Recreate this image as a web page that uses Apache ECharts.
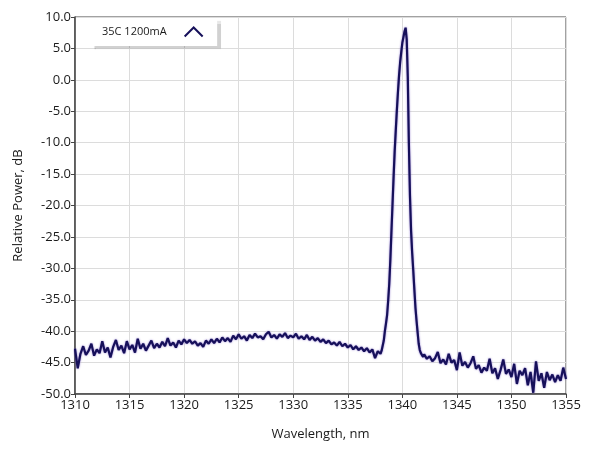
<!DOCTYPE html>
<html><head><meta charset="utf-8">
<script src="https://cdn.jsdelivr.net/npm/echarts@6/dist/echarts.min.js"></script>
<style>html,body{margin:0;padding:0;background:#fff}#c{width:589px;height:456px}</style>
</head><body><div id="c"></div>
<script>
const seriesName = '35C 1200mA';
const xTicks = [1310,1315,1320,1325,1330,1335,1340,1345,1350,1355];
const yTicks = [-50,-45,-40,-35,-30,-25,-20,-15,-10,-5,0,5,10];

const leftWl = [1310.00,1310.25,1310.50,1310.75,1311.00,1311.25,1311.50,1311.75,1312.00,1312.25,1312.50,1312.75,1313.00,1313.25,1313.50,1313.75,1314.00,1314.25,1314.50,1314.75,1315.00,1315.25,1315.50,1315.75,1316.00,1316.25,1316.50,1316.75,1317.00,1317.25,1317.50,1317.75,1318.00,1318.25,1318.50,1318.75,1319.00,1319.25,1319.50,1319.75,1320.00,1320.25,1320.50,1320.75,1321.00,1321.25,1321.50,1321.75,1322.00,1322.25,1322.50,1322.75,1323.00,1323.25,1323.50,1323.75,1324.00,1324.25,1324.50,1324.75,1325.00,1325.25,1325.50,1325.75,1326.00,1326.25,1326.50,1326.75,1327.00,1327.25,1327.50,1327.75,1328.00,1328.25,1328.50,1328.75,1329.00,1329.25,1329.50,1329.75,1330.00,1330.25,1330.50,1330.75,1331.00,1331.25,1331.50,1331.75,1332.00,1332.25,1332.50,1332.75,1333.00,1333.25,1333.50,1333.75,1334.00,1334.25,1334.50,1334.75,1335.00,1335.25,1335.50,1335.75,1336.00,1336.25,1336.50,1336.75,1337.00,1337.25,1337.50,1337.75];
const leftDb = [-42.8,-45.9,-43.6,-42.4,-43.8,-43.1,-42.0,-43.9,-42.9,-43.5,-41.6,-43.4,-42.6,-44.2,-42.5,-41.4,-43.0,-42.3,-43.5,-41.6,-42.9,-42.2,-43.4,-41.2,-42.8,-42.0,-43.1,-42.3,-41.5,-42.7,-42.0,-42.6,-41.7,-42.4,-41.1,-42.3,-41.8,-42.6,-41.5,-42.1,-41.3,-41.9,-41.4,-42.0,-41.6,-42.3,-41.9,-42.5,-41.5,-42.0,-41.3,-41.9,-41.2,-41.8,-41.0,-41.6,-41.1,-41.7,-40.7,-41.3,-40.5,-41.2,-40.8,-41.5,-40.6,-41.1,-40.4,-41.0,-40.8,-41.3,-40.5,-40.1,-41.0,-40.6,-41.2,-40.5,-40.9,-40.3,-41.1,-40.7,-41.0,-40.4,-41.2,-40.8,-41.3,-40.6,-41.4,-40.9,-41.5,-41.1,-41.7,-41.3,-41.9,-41.5,-42.1,-41.8,-42.3,-41.7,-42.4,-42.0,-42.6,-42.2,-42.9,-42.4,-43.0,-42.6,-43.2,-42.7,-43.4,-42.9,-44.3,-43.2];

const peakWl = [1338.0,1338.1,1338.2,1338.3,1338.4,1338.5,1338.6,1338.7,1338.8,1338.9,1339.0,1339.1,1339.2,1339.3,1339.4,1339.5,1339.6,1339.7,1339.8,1339.9,1340.0,1340.1,1340.2,1340.3,1340.4,1340.5,1340.6,1340.7,1340.8,1340.9,1341.0,1341.1,1341.2,1341.3,1341.4,1341.5,1341.6,1341.7,1341.8,1341.9,1342.0];
const peakDb = [-43.6,-43.1,-42.8,-41.5,-40.0,-38.8,-37.5,-35.2,-32.5,-28.7,-24.2,-19.8,-15.4,-11.3,-8.0,-4.8,-1.9,0.7,2.8,4.4,5.9,6.8,7.7,8.3,6.5,0.5,-10.1,-18.5,-24.0,-27.5,-30.3,-33.3,-36.2,-38.3,-40.2,-42.0,-43.0,-43.5,-43.8,-44.1,-43.7];

const rightWl = [1342.25,1342.50,1342.75,1343.00,1343.25,1343.50,1343.75,1344.00,1344.25,1344.50,1344.75,1345.00,1345.25,1345.50,1345.75,1346.00,1346.25,1346.50,1346.75,1347.00,1347.25,1347.50,1347.75,1348.00,1348.25,1348.50,1348.75,1349.00,1349.25,1349.50,1349.75,1350.00,1350.25,1350.50,1350.75,1351.00,1351.25,1351.50,1351.75,1352.00,1352.25,1352.50,1352.75,1353.00,1353.25,1353.50,1353.75,1354.00,1354.25,1354.50,1354.75,1355.00];
const rightDb = [-44.4,-44.0,-44.8,-44.3,-43.3,-45.1,-44.5,-45.3,-43.6,-45.0,-44.6,-46.2,-43.4,-45.5,-44.9,-45.8,-45.1,-44.0,-46.0,-45.4,-46.6,-45.8,-46.3,-44.4,-46.7,-45.9,-47.6,-46.2,-44.5,-46.8,-46.1,-47.3,-45.2,-48.4,-46.3,-47.0,-45.9,-48.6,-46.5,-49.8,-44.8,-47.9,-46.7,-49.0,-46.5,-47.8,-46.9,-48.1,-47.0,-47.9,-45.8,-47.6];

const wl = leftWl.concat(peakWl, rightWl);
const db = leftDb.concat(peakDb, rightDb);
const pts = wl.map((w, i) => [w, db[i]]);

const font = '"Open Sans", "Noto Sans", sans-serif';
const chart = echarts.init(document.getElementById('c'), null, {renderer: 'canvas'});
chart.setOption({
  animation: false,
  backgroundColor: '#fff',
  grid: {left: 75, right: 23, top: 17, bottom: 62, show: true, borderColor: '#444', borderWidth: 1, backgroundColor: '#fff'},
  legend: {
    data: [seriesName], left: 90, top: 18, align: 'right',
    padding: [7, 12, 7, 12], itemGap: 5,
    backgroundColor: '#fff',
    shadowColor: 'rgba(0,0,0,0.18)', shadowOffsetX: 4, shadowOffsetY: 3, shadowBlur: 1,
    itemWidth: 20, itemHeight: 9,
    icon: 'path://M0,10 L10,0 L20,10',
    itemStyle: {color: 'none', borderColor: '#16105a', borderWidth: 2},
    textStyle: {fontFamily: font, fontSize: 11, color: '#1a1a1a', padding: [0, 12, 0, 0]}
  },
  xAxis: {
    type: 'value', min: 1310, max: 1355, interval: 5,
    name: 'Wavelength, nm', nameLocation: 'middle', nameGap: 34,
    nameTextStyle: {fontFamily: font, fontSize: 13, color: '#1a1a1a'},
    axisLine: {show: true, onZero: false, lineStyle: {color: '#444', width: 1.5}},
    axisTick: {show: true, length: 4, lineStyle: {color: '#444'}},
    axisLabel: {fontFamily: font, fontSize: 13, color: '#1a1a1a', margin: 5,
      formatter: v => xTicks.includes(v) ? String(v) : ''},
    splitLine: {show: true, lineStyle: {color: '#dcdcdc', width: 1}}
  },
  yAxis: {
    type: 'value', min: -50, max: 10, interval: 5,
    name: 'Relative Power, dB', nameLocation: 'middle', nameGap: 50, nameRotate: 90,
    nameTextStyle: {fontFamily: font, fontSize: 13, color: '#1a1a1a'},
    axisLine: {show: true, onZero: false, lineStyle: {color: '#444', width: 1.5}},
    axisTick: {show: true, length: 4, lineStyle: {color: '#444'}},
    axisLabel: {fontFamily: font, fontSize: 13, color: '#1a1a1a', margin: 4,
      formatter: v => yTicks.includes(v) ? v.toFixed(1) : ''},
    splitLine: {show: true, lineStyle: {color: '#dcdcdc', width: 1}}
  },
  series: [{
    name: seriesName, type: 'line', data: pts, showSymbol: false, symbol: 'none',
    lineStyle: {color: '#16105a', width: 2.2, shadowColor: 'rgba(110,80,190,0.8)', shadowBlur: 2},
    itemStyle: {color: '#16105a'}
  }]
});
</script></body></html>
